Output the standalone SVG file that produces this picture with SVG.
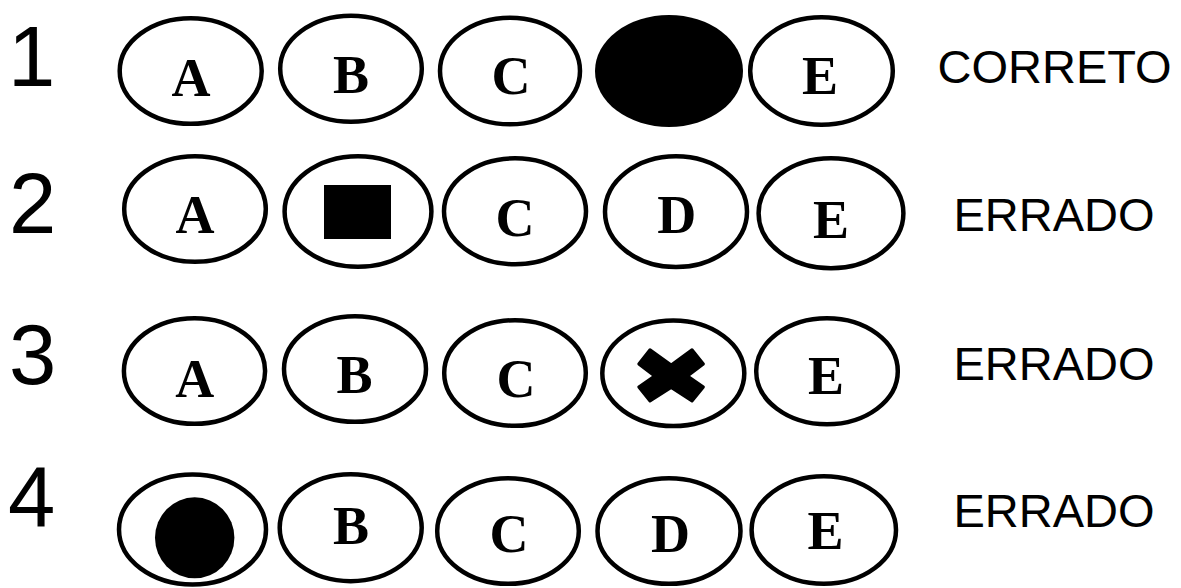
<svg xmlns="http://www.w3.org/2000/svg" width="1181" height="588" viewBox="0 0 1181 588">
<style>
.bub{fill:#fff;stroke:#000;stroke-width:4.5}
.fill{fill:#000}
.let{font-family:"Liberation Serif","Times New Roman",serif;font-weight:bold;font-size:54px;text-anchor:middle;fill:#000}
.num{font-family:"Liberation Sans",Arial,sans-serif;font-size:85px;fill:#000}
.res{font-family:"Liberation Sans",Arial,sans-serif;font-size:47px;fill:#000}
</style>
<rect width="1181" height="588" fill="#fff"/>
<g id="row1">
  <text class="num" x="8" y="86">1</text>
  <g id="r1a"><ellipse class="bub" cx="190.7" cy="71" rx="71" ry="52.8"/><text class="let" x="191" y="96">A</text></g>
  <g id="r1b"><ellipse class="bub" cx="351" cy="68.7" rx="70.8" ry="53"/><text class="let" x="351" y="92.7">B</text></g>
  <g id="r1c"><ellipse class="bub" cx="510" cy="71" rx="70" ry="53.3"/><text class="let" x="511" y="94">C</text></g>
  <g id="r1d"><ellipse class="fill" cx="669" cy="71" rx="74" ry="56"/></g>
  <g id="r1e"><ellipse class="bub" cx="821.5" cy="71" rx="71.3" ry="53.8"/><text class="let" x="820" y="94.3">E</text></g>
  <text class="res" x="937.5" y="83.3">CORRETO</text>
</g>
<g id="row2">
  <text class="num" x="9" y="233.3">2</text>
  <g id="r2a"><ellipse class="bub" cx="195" cy="209" rx="70.8" ry="52.8"/><text class="let" x="195" y="233.3">A</text></g>
  <g id="r2b"><ellipse class="bub" cx="358" cy="211.5" rx="73.4" ry="55.3"/><rect class="fill" x="324" y="185" width="67" height="54"/></g>
  <g id="r2c"><ellipse class="bub" cx="515" cy="211.3" rx="71" ry="53"/><text class="let" x="515" y="236">C</text></g>
  <g id="r2d"><ellipse class="bub" cx="676" cy="211.7" rx="71" ry="55.4"/><text class="let" x="676.7" y="232.7">D</text></g>
  <g id="r2e"><ellipse class="bub" cx="831" cy="213.3" rx="72.4" ry="55"/><text class="let" x="831" y="237.7">E</text></g>
  <text class="res" x="953.5" y="231">ERRADO</text>
</g>
<g id="row3">
  <text class="num" x="9" y="383.5">3</text>
  <g id="r3a"><ellipse class="bub" cx="194.5" cy="371" rx="70.6" ry="52.8"/><text class="let" x="194.7" y="396.7">A</text></g>
  <g id="r3b"><ellipse class="bub" cx="355" cy="369" rx="71" ry="52.8"/><text class="let" x="354.5" y="392.7">B</text></g>
  <g id="r3c"><ellipse class="bub" cx="515" cy="373" rx="70.8" ry="52.8"/><text class="let" x="516" y="397">C</text></g>
  <g id="r3d"><ellipse class="bub" cx="673.3" cy="373.3" rx="71" ry="52.8"/>
    <polygon class="fill" stroke="#000" stroke-width="3" stroke-linejoin="round" points="650,349.8 671.2,365 692,349.8 703.4,364 687.5,376 703.4,387 692,401 671.2,387.5 650,401 638.8,387 654.6,376 638.8,364"/></g>
  <g id="r3e"><ellipse class="bub" cx="827" cy="371.3" rx="70.8" ry="53"/><text class="let" x="826" y="394">E</text></g>
  <text class="res" x="953.5" y="380">ERRADO</text>
</g>
<g id="row4">
  <text class="num" x="8" y="526">4</text>
  <g id="r4a"><ellipse class="bub" cx="192.5" cy="529.5" rx="73.5" ry="55"/><ellipse class="fill" cx="194.7" cy="537.8" rx="39.7" ry="40.5"/></g>
  <g id="r4b"><ellipse class="bub" cx="350.7" cy="527.7" rx="71" ry="53.5"/><text class="let" x="351" y="544.3">B</text></g>
  <g id="r4c"><ellipse class="bub" cx="508" cy="531" rx="70.8" ry="52.8"/><text class="let" x="509" y="552">C</text></g>
  <g id="r4d"><ellipse class="bub" cx="669" cy="531" rx="71.5" ry="52.8"/><text class="let" x="670.5" y="552.3">D</text></g>
  <g id="r4e"><ellipse class="bub" cx="823.8" cy="530" rx="72.2" ry="53.8"/><text class="let" x="825.5" y="549.3">E</text></g>
  <text class="res" x="953.5" y="526.7">ERRADO</text>
</g>
<g id="connectors"/>
</svg>
